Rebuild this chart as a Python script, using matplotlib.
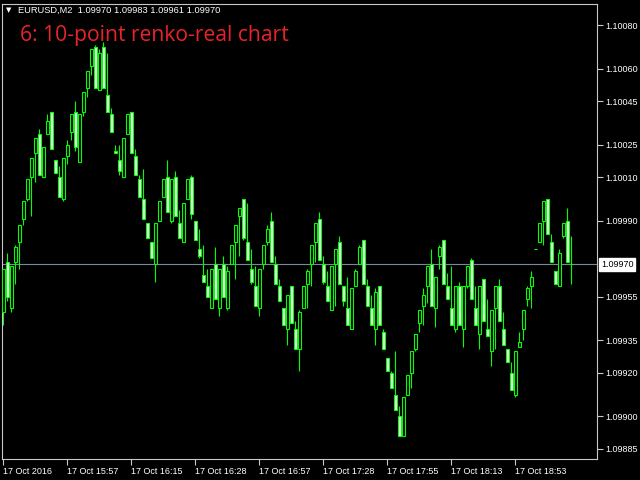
import numpy as np
import matplotlib
matplotlib.use("Agg")
import matplotlib.pyplot as plt

# EURUSD M2, 10-point renko-real candles
opens = [1.09948, 1.09971, 1.09950, 1.09971, 1.09980, 1.09991, 1.10000, 1.10010, 1.10021, 1.10030,
         1.10010, 1.10030, 1.10040, 1.10018, 1.10010, 1.10000, 1.10020, 1.10031, 1.10040, 1.10017,
         1.10040, 1.10051, 1.10061, 1.10070, 1.10050, 1.10070, 1.10048, 1.10039, 1.10022, 1.10018,
         1.10010, 1.10030, 1.10040, 1.10020, 1.10009, 1.10000, 1.09989, 1.09980, 1.09970, 1.09990,
         1.10001, 1.10010, 1.09990, 1.10010, 1.09989, 1.09980, 1.10000, 1.10010, 1.09990, 1.09977,
         1.09965, 1.09960, 1.09950, 1.09970, 1.09950, 1.09970, 1.09950, 1.09970, 1.09980, 1.09992,
         1.10000, 1.09980, 1.09968, 1.09960, 1.09950, 1.09970, 1.09980, 1.09990, 1.09970, 1.09960,
         1.09950, 1.09940, 1.09960, 1.09940, 1.09931, 1.09950, 1.09961, 1.09970, 1.09980, 1.09991,
         1.09970, 1.09960, 1.09949, 1.09970, 1.09980, 1.09960, 1.09950, 1.09940, 1.09960, 1.09970,
         1.09981, 1.09960, 1.09950, 1.09940, 1.09960, 1.09939, 1.09927, 1.09920, 1.09910, 1.09900,
         1.09891, 1.09910, 1.09920, 1.09931, 1.09943, 1.09951, 1.09960, 1.09970, 1.09950, 1.09974,
         1.09981, 1.09960, 1.09950, 1.09940, 1.09960, 1.09940, 1.09960, 1.09972, 1.09950, 1.09938,
         1.09963, 1.09940, 1.09930, 1.09950, 1.09960, 1.09940, 1.09931, 1.09920, 1.09910, 1.09932,
         1.09940, 1.09954, 1.09960, 1.09977, 1.09980, 1.09990, 1.10000, 1.09980, 1.09967, 1.09960,
         1.09983, 1.09990, 1.09970]
highs = [1.09968, 1.09975, 1.09969, 1.09979, 1.09988, 1.09999, 1.10009, 1.10019, 1.10028, 1.10032,
         1.10024, 1.10039, 1.10040, 1.10018, 1.10015, 1.10019, 1.10027, 1.10039, 1.10045, 1.10039,
         1.10049, 1.10059, 1.10069, 1.10071, 1.10069, 1.10072, 1.10067, 1.10042, 1.10025, 1.10025,
         1.10028, 1.10039, 1.10040, 1.10023, 1.10011, 1.10014, 1.09989, 1.09980, 1.09989, 1.09999,
         1.10009, 1.10018, 1.10009, 1.10013, 1.09995, 1.09998, 1.10009, 1.10011, 1.09990, 1.09986,
         1.09979, 1.09968, 1.09968, 1.09978, 1.09968, 1.09974, 1.09969, 1.09979, 1.09988, 1.09996,
         1.10000, 1.09998, 1.09977, 1.09969, 1.09968, 1.09979, 1.09988, 1.09994, 1.09974, 1.09963,
         1.09950, 1.09956, 1.09960, 1.09944, 1.09949, 1.09960, 1.09968, 1.09979, 1.09989, 1.09994,
         1.09974, 1.09967, 1.09969, 1.09977, 1.09983, 1.09960, 1.09964, 1.09959, 1.09968, 1.09979,
         1.09981, 1.09963, 1.09956, 1.09959, 1.09960, 1.09940, 1.09927, 1.09921, 1.09930, 1.09905,
         1.09909, 1.09919, 1.09930, 1.09938, 1.09949, 1.09959, 1.09969, 1.09977, 1.09964, 1.09979,
         1.09981, 1.09966, 1.09969, 1.09960, 1.09962, 1.09960, 1.09969, 1.09973, 1.09960, 1.09960,
         1.09963, 1.09954, 1.09949, 1.09960, 1.09963, 1.09948, 1.09931, 1.09925, 1.09930, 1.09939,
         1.09949, 1.09960, 1.09967, 1.09977, 1.09989, 1.09999, 1.10000, 1.09984, 1.09967, 1.09977,
         1.09989, 1.09996, 1.09983]
lows = [1.09942, 1.09953, 1.09948, 1.09961, 1.09968, 1.09988, 1.09999, 1.09992, 1.10008, 1.10011,
        1.10010, 1.10030, 1.10023, 1.10012, 1.10001, 1.09999, 1.10016, 1.10027, 1.10022, 1.10017,
        1.10038, 1.10047, 1.10057, 1.10051, 1.10050, 1.10051, 1.10040, 1.10031, 1.10021, 1.10011,
        1.10010, 1.10030, 1.10021, 1.10011, 1.10001, 1.09991, 1.09982, 1.09973, 1.09962, 1.09990,
        1.10001, 1.09994, 1.09989, 1.09992, 1.09982, 1.09980, 1.10000, 1.09991, 1.09981, 1.09973,
        1.09962, 1.09955, 1.09950, 1.09954, 1.09946, 1.09955, 1.09949, 1.09970, 1.09963, 1.09974,
        1.09981, 1.09972, 1.09961, 1.09951, 1.09946, 1.09968, 1.09979, 1.09971, 1.09961, 1.09953,
        1.09942, 1.09933, 1.09943, 1.09931, 1.09921, 1.09950, 1.09950, 1.09960, 1.09971, 1.09972,
        1.09961, 1.09953, 1.09949, 1.09951, 1.09961, 1.09951, 1.09942, 1.09940, 1.09960, 1.09970,
        1.09961, 1.09951, 1.09942, 1.09933, 1.09942, 1.09931, 1.09921, 1.09913, 1.09903, 1.09891,
        1.09891, 1.09910, 1.09913, 1.09930, 1.09939, 1.09942, 1.09952, 1.09951, 1.09941, 1.09968,
        1.09961, 1.09954, 1.09942, 1.09939, 1.09942, 1.09932, 1.09959, 1.09954, 1.09942, 1.09931,
        1.09944, 1.09937, 1.09923, 1.09931, 1.09944, 1.09933, 1.09925, 1.09912, 1.09909, 1.09932,
        1.09935, 1.09951, 1.09950, 1.09977, 1.09980, 1.09979, 1.09984, 1.09971, 1.09961, 1.09960,
        1.09982, 1.09971, 1.09961]
closes = [1.09968, 1.09955, 1.09969, 1.09978, 1.09988, 1.09999, 1.10009, 1.10019, 1.10028, 1.10011,
          1.10024, 1.10036, 1.10023, 1.10012, 1.10001, 1.10019, 1.10025, 1.10039, 1.10024, 1.10039,
          1.10049, 1.10059, 1.10069, 1.10051, 1.10067, 1.10051, 1.10040, 1.10031, 1.10021, 1.10013,
          1.10028, 1.10039, 1.10021, 1.10011, 1.10001, 1.09991, 1.09982, 1.09973, 1.09989, 1.09999,
          1.10009, 1.09994, 1.10009, 1.09992, 1.09982, 1.09998, 1.10009, 1.09993, 1.09981, 1.09974,
          1.09962, 1.09955, 1.09968, 1.09954, 1.09968, 1.09955, 1.09967, 1.09979, 1.09988, 1.09996,
          1.09982, 1.09972, 1.09962, 1.09951, 1.09968, 1.09979, 1.09986, 1.09971, 1.09961, 1.09953,
          1.09942, 1.09956, 1.09943, 1.09931, 1.09948, 1.09960, 1.09967, 1.09979, 1.09989, 1.09972,
          1.09962, 1.09953, 1.09969, 1.09977, 1.09961, 1.09953, 1.09942, 1.09959, 1.09967, 1.09978,
          1.09961, 1.09951, 1.09942, 1.09957, 1.09942, 1.09931, 1.09921, 1.09913, 1.09903, 1.09891,
          1.09909, 1.09919, 1.09930, 1.09938, 1.09949, 1.09956, 1.09969, 1.09951, 1.09964, 1.09978,
          1.09961, 1.09954, 1.09942, 1.09960, 1.09942, 1.09960, 1.09969, 1.09954, 1.09942, 1.09960,
          1.09944, 1.09937, 1.09949, 1.09960, 1.09944, 1.09933, 1.09925, 1.09912, 1.09930, 1.09934,
          1.09949, 1.09959, 1.09964, 1.09977, 1.09989, 1.09999, 1.09984, 1.09971, 1.09961, 1.09975,
          1.09989, 1.09971, 1.09970]

price_ticks = [1.10080, 1.10060, 1.10045, 1.10025, 1.10010, 1.09990,
               1.09955, 1.09935, 1.09920, 1.09900, 1.09885]
last_price = 1.09970
time_ticks = [0, 16, 32, 48, 64, 80, 96, 112, 128]
time_labels = ["17 Oct 2016", "17 Oct 15:57", "17 Oct 16:15", "17 Oct 16:28",
               "17 Oct 16:57", "17 Oct 17:28", "17 Oct 17:55", "17 Oct 18:13",
               "17 Oct 18:53"]
title = "6: 10-point renko-real chart"
header = "EURUSD,M2  1.09970 1.09983 1.09961 1.09970"

LIME = "#00ff00"
FRAME = "#c8c8c8"
SMALL = 6.5

fig = plt.figure(figsize=(6.4, 4.8), dpi=100, facecolor="black")
ax = fig.add_axes([2 / 640, 1 - 459 / 480, 595 / 640, 455 / 480])
ax.set_facecolor("black")

o = np.array(opens)
h = np.array(highs)
l = np.array(lows)
c = np.array(closes)
x = np.arange(len(o))

ax.vlines(x, l, h, color=LIME, linewidth=0.8, zorder=2)
body_lo = np.minimum(o, c)
body_hi = np.maximum(o, c)
fills = np.where(c < o, "white", "black")
flat = body_hi - body_lo < 1e-7
ax.bar(x[~flat], (body_hi - body_lo)[~flat], bottom=body_lo[~flat], width=0.6,
       color=fills[~flat], edgecolor=LIME, linewidth=0.8, zorder=3)
ax.hlines(o[flat], x[flat] - 0.3, x[flat] + 0.3, color=LIME, linewidth=0.8, zorder=3)

ax.axhline(last_price, color="lightslategray", linewidth=0.8, zorder=1)

ax.set_xlim(-0.33, 148.4)
ax.set_ylim(1.098804, 1.100897)

for s in ax.spines.values():
    s.set_color(FRAME)
    s.set_linewidth(0.8)

ax.yaxis.tick_right()
ax.set_yticks(price_ticks)
ax.set_yticklabels([f"{p:.5f}" for p in price_ticks])
ax.tick_params(axis="y", colors=FRAME, length=4, width=0.8, pad=2,
               labelcolor="white", labelsize=SMALL)
for lab in ax.get_yticklabels():
    lab.set_fontfamily("Liberation Sans")

ax.set_xticks(time_ticks)
ax.set_xticklabels(time_labels, ha="left")
ax.tick_params(axis="x", colors=FRAME, length=4, width=0.8, pad=2,
               labelcolor="white", labelsize=SMALL)
for lab in ax.get_xticklabels():
    lab.set_fontfamily("Liberation Sans")

# current price marker on the scale
ax.annotate(f"{last_price:.5f}", xy=(1.0, last_price), xycoords=("axes fraction", "data"),
            xytext=(3, 0), textcoords="offset points", va="center", ha="left",
            fontsize=SMALL, family="Liberation Sans", color="black",
            bbox=dict(boxstyle="square,pad=0.2", facecolor="white", edgecolor="white"),
            annotation_clip=False)

fig.text(6 / 640, 1 - 10 / 480, "\u25bc", color="white", fontsize=5, va="center", ha="left")
fig.text(18 / 640, 1 - 10 / 480, header, color="white", fontsize=6.7,
         family="Liberation Sans", va="center", ha="left")
fig.text(20 / 640, 1 - 35 / 480, title, color="#e8232b", fontsize=15.2,
         family="Open Sans", va="center", ha="left")

fig.savefig("out.png", dpi=100, facecolor="black")
